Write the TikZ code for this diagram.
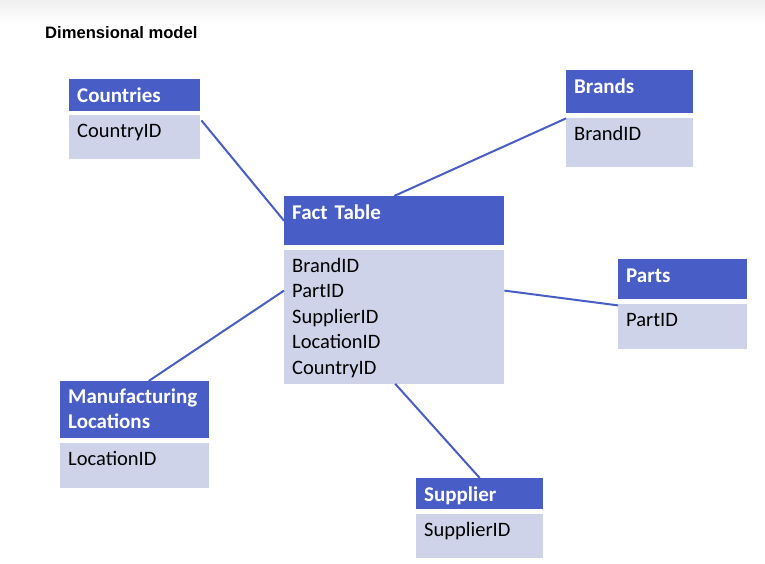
\documentclass[tikz,border=0pt]{standalone}
\usepackage{fontspec}
\setmainfont{Carlito}
\newfontfamily\titlefont{Liberation Sans}
\usepackage{tikz}
\usetikzlibrary{positioning, calc}
\definecolor{hdrblue}{RGB}{72,93,198}
\definecolor{fldlav}{RGB}{207,211,234}
\definecolor{linkblue}{RGB}{72,93,198}
\tikzset{
  hdr/.style={rectangle, fill=hdrblue, text=white, anchor=north west,
    align=left, inner xsep=8pt, inner ysep=0pt, text height=23pt,
    font=\bfseries\fontsize{21}{25.5}\selectfont},
  fld/.style={rectangle, fill=fldlav, text=black, align=left,
    inner xsep=8pt, inner ysep=0pt, text height=22.5pt,
    font=\fontsize{20.5}{25.5}\selectfont},
  link/.style={line width=2pt, color=linkblue}
}

\begin{document}
\begin{tikzpicture}[x=1pt, y=-1pt]
  \useasboundingbox (0,0) rectangle (765,564);
  \shade[top color=black!6, bottom color=white] (0,0) rectangle (765,24);
  \node[anchor=base west, inner sep=0pt,
    font=\titlefont\bfseries\fontsize{16.6}{19}\selectfont] (title) at (45,38.3) {Dimensional model};

  % dimension tables
  \node[hdr, text width=115pt, text depth=9pt] (ctryhdr) at (69,79) {Countries};
  \node[fld, text width=115pt, text depth=21.5pt, below right=3pt and 0pt of ctryhdr.south west, anchor=north west] (ctrybody) {CountryID};

  \node[hdr, text width=111pt, text depth=20pt] (brhdr) at (566,70) {Brands};
  \node[fld, text width=111pt, text depth=26.5pt, below right=4pt and 0pt of brhdr.south west, anchor=north west] (brbody) {BrandID};

  \node[hdr, text width=204pt, text depth=26pt] (facthdr) at (284,196) {Fact Table};
  \node[fld, text width=204pt, text depth=111.5pt, below right=4pt and 0pt of facthdr.south west, anchor=north west] (factbody)
    {BrandID\\PartID\\SupplierID\\LocationID\\CountryID};

  \node[hdr, text width=113pt, text depth=17pt] (pthdr) at (618,259) {Parts};
  \node[fld, text width=113pt, text depth=22.5pt, below right=4pt and 0pt of pthdr.south west, anchor=north west] (ptbody) {PartID};

  \node[hdr, text width=133pt, text height=22pt, text depth=35pt] (mfghdr) at (60,381) {Manufacturing\\Locations};
  \node[fld, text width=133pt, text depth=22.5pt, below right=4pt and 0pt of mfghdr.south west, anchor=north west] (mfgbody) {LocationID};

  \node[hdr, text width=111pt, text depth=8pt] (suphdr) at (416,478) {Supplier};
  \node[fld, text width=111pt, text depth=21.5pt, below right=4pt and 0pt of suphdr.south west, anchor=north west] (supbody) {SupplierID};

  % links to the fact table
  \draw[link] ($(ctrybody.north east)+(1,6)$) -- (facthdr.west);
  \draw[link] ($(brbody.north west)+(0,1)$) -- (facthdr.north);
  \draw[link] ($(factbody.east)+(0,-26)$) -- ($(ptbody.north west)+(0,2)$);
  \draw[link] ($(factbody.west)+(0,-26)$) -- ($(mfghdr.north)+(14,0)$);
  \draw[link] ($(factbody.south)+(1,0)$) -- (suphdr.north);
\end{tikzpicture}
\end{document}
